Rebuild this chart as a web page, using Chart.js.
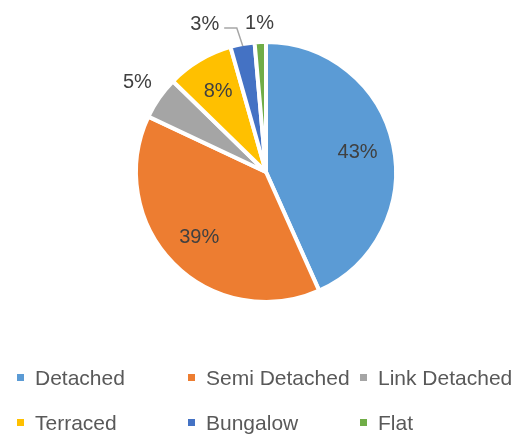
<!DOCTYPE html>
<html>
<head>
<meta charset="utf-8">
<script src="https://cdn.jsdelivr.net/npm/chart.js@4"></script>
<style>
html,body{margin:0;padding:0;background:#fff;}
#wrap{position:relative;width:528px;height:435px;}
</style>
</head>
<body>
<div id="wrap"><canvas id="c" width="528" height="435"></canvas></div>
<script>
const categories = ["Detached", "Semi Detached", "Link Detached", "Terraced", "Bungalow", "Flat"];
const shares = [43.3, 38.7, 5.3, 8.3, 3.0, 1.4];
const colors = ["#5B9BD5", "#ED7D31", "#A5A5A5", "#FFC000", "#4472C4", "#70AD47"];
const outsideLabel = [false, false, true, false, true, true];

const pieLabels = {
  id: 'pieLabels',
  afterDatasetsDraw(chart, args, opts) {
    const ctx = chart.ctx;
    const meta = chart.getDatasetMeta(0);
    const data = chart.data.datasets[0].data;
    const total = data.reduce((a, b) => a + b, 0);
    ctx.save();
    ctx.font = '20px "Liberation Sans", Arial, sans-serif';
    ctx.fillStyle = '#404040';
    ctx.textAlign = 'center';
    ctx.textBaseline = 'middle';
    meta.data.forEach((arc, i) => {
      const p = arc.getProps(['x', 'y', 'startAngle', 'endAngle', 'outerRadius'], true);
      const mid = (p.startAngle + p.endAngle) / 2;
      const txt = Math.round(data[i] / total * 100) + '%';
      const w = ctx.measureText(txt).width;
      const c = Math.cos(mid), s = Math.sin(mid);
      let x, y;
      if (outsideLabel[i]) {
        const ext = Math.abs(c) * (w / 2) + Math.abs(s) * 8;
        const d = p.outerRadius + 10 + ext;
        x = p.x + c * d; y = p.y + s * d;
      } else {
        const d = p.outerRadius * 0.72;
        x = p.x + c * d; y = p.y + s * d;
      }
      const nudge = (opts.nudge || {})[i];
      if (nudge) {
        x += nudge[0]; y += nudge[1];
        const ax = p.x + c * (p.outerRadius - 2), ay = p.y + s * (p.outerRadius - 2);
        ctx.save();
        ctx.strokeStyle = '#A6A6A6';
        ctx.lineWidth = 1.5;
        ctx.beginPath();
        ctx.moveTo(x + w / 2 + 5, y + 4);
        ctx.lineTo(ax - 6, y + 4);
        ctx.lineTo(ax, ay);
        ctx.stroke();
        ctx.restore();
      }
      ctx.fillText(txt, x, y);
    });
    ctx.restore();
  }
};

const gridLegend = {
  id: 'gridLegend',
  afterDraw(chart, args, opts) {
    const ctx = chart.ctx;
    const labels = chart.data.labels;
    const bg = chart.data.datasets[0].backgroundColor;
    ctx.save();
    ctx.font = '21px "Liberation Sans", Arial, sans-serif';
    ctx.textBaseline = 'middle';
    ctx.textAlign = 'left';
    labels.forEach((lab, i) => {
      const col = i % opts.cols.length, row = Math.floor(i / opts.cols.length);
      const x = opts.cols[col], y = opts.rows[row];
      ctx.fillStyle = bg[i];
      ctx.fillRect(x, y - 4, 7, 7);
      ctx.fillStyle = '#595959';
      ctx.fillText(lab, x + 18, y + 1);
    });
    ctx.restore();
  }
};

new Chart(document.getElementById('c'), {
  type: 'pie',
  data: {
    labels: categories,
    datasets: [{
      data: shares,
      backgroundColor: colors,
      borderColor: '#ffffff',
      borderWidth: 4,
      hoverOffset: 0
    }]
  },
  options: {
    responsive: false,
    animation: false,
    layout: { padding: { top: 40, bottom: 131, left: 4, right: 0 } },
    plugins: {
      legend: { display: false },
      tooltip: { enabled: false },
      pieLabels: { nudge: { 4: [-34, 0] } },
      gridLegend: { cols: [17, 188, 360], rows: [378, 423] }
    }
  },
  plugins: [pieLabels, gridLegend]
});
</script>
</body>
</html>
